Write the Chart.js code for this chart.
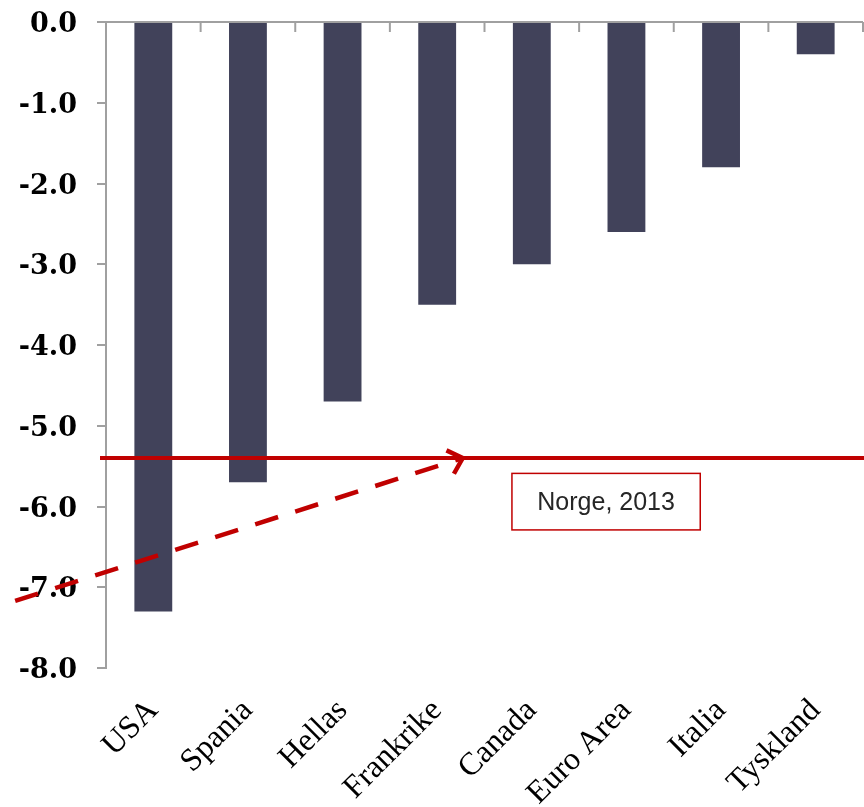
<!DOCTYPE html>
<html><head><meta charset="utf-8">
<script src="https://cdn.jsdelivr.net/npm/chart.js@4/dist/chart.umd.min.js"></script>
<style>html,body{margin:0;padding:0;background:#fff}#wrap{width:864px;height:807px}</style>
</head><body><div id="wrap"><canvas id="c"></canvas></div>
<script>
// ---- data ----
const categories = ['USA', 'Spania', 'Hellas', 'Frankrike', 'Canada', 'Euro Area', 'Italia', 'Tyskland'];
const values = [-7.3, -5.7, -4.7, -3.5, -3.0, -2.6, -1.8, -0.4];
const yMin = -8;
const yMax = 0;
const yStep = 1;
// reference level (Norge, 2013)
const norgeLevel = -5.4;
const norgeLabel = 'Norge, 2013';

// ---- annotation placement (data coordinates: category index, value) ----
const arrowFrom = { x: -1.46, y: -7.17 };
const arrowTo = { x: 3.27, y: -5.4 };
const labelBox = { x1: 3.79, x2: 5.78, y1: -5.59, y2: -6.29 };

const AXIS_COLOR = '#a0a0a0';
const RED = '#c00000';

const overlay = {
  id: 'overlay',
  afterDatasetsDraw(chart) {
    const ctx = chart.ctx, x = chart.scales.x, y = chart.scales.y, ca = chart.chartArea;
    ctx.save();
    // top axis line at value 0 with category tick marks
    const y0 = y.getPixelForValue(0);
    ctx.strokeStyle = AXIS_COLOR; ctx.lineWidth = 2;
    ctx.beginPath(); ctx.moveTo(ca.left, y0); ctx.lineTo(ca.right, y0); ctx.stroke();
    const half = (x.getPixelForValue(1) - x.getPixelForValue(0)) / 2;
    for (let i = 0; i < categories.length; i++) {
      const bx = x.getPixelForValue(i) + half;
      ctx.beginPath(); ctx.moveTo(bx, y0); ctx.lineTo(bx, y0 + 10); ctx.stroke();
    }
    // red horizontal level line
    const yl = y.getPixelForValue(norgeLevel);
    ctx.strokeStyle = RED; ctx.lineWidth = 4;
    ctx.beginPath(); ctx.moveTo(ca.left - 6, yl); ctx.lineTo(chart.width, yl); ctx.stroke();
    // dashed arrow
    const ax1 = x.getPixelForValue(arrowFrom.x), ay1 = y.getPixelForValue(arrowFrom.y);
    const ax2 = x.getPixelForValue(arrowTo.x), ay2 = y.getPixelForValue(arrowTo.y);
    ctx.lineWidth = 4.5;
    ctx.setLineDash([24, 18]);
    ctx.beginPath(); ctx.moveTo(ax1, ay1); ctx.lineTo(ax2, ay2); ctx.stroke();
    ctx.setLineDash([]);
    const ang = Math.atan2(ay2 - ay1, ax2 - ax1);
    const L = 18, spread = 0.75;
    ctx.beginPath();
    ctx.moveTo(ax2 - L * Math.cos(ang - spread), ay2 - L * Math.sin(ang - spread));
    ctx.lineTo(ax2, ay2);
    ctx.lineTo(ax2 - L * Math.cos(ang + spread), ay2 - L * Math.sin(ang + spread));
    ctx.stroke();
    // label box
    const bx1 = x.getPixelForValue(labelBox.x1), bx2 = x.getPixelForValue(labelBox.x2);
    const by1 = y.getPixelForValue(labelBox.y1), by2 = y.getPixelForValue(labelBox.y2);
    ctx.fillStyle = '#fff';
    ctx.fillRect(bx1, by1, bx2 - bx1, by2 - by1);
    ctx.lineWidth = 1.5; ctx.strokeStyle = RED;
    ctx.strokeRect(bx1, by1, bx2 - bx1, by2 - by1);
    ctx.fillStyle = '#262626';
    ctx.font = '25px "Liberation Sans", Arial, sans-serif';
    ctx.textAlign = 'center'; ctx.textBaseline = 'middle';
    ctx.fillText(norgeLabel, (bx1 + bx2) / 2, (by1 + by2) / 2 + 1);
    ctx.restore();
  }
};

new Chart(document.getElementById('c'), {
  type: 'bar',
  data: {
    labels: categories,
    datasets: [{ data: values, backgroundColor: '#41425a', barPercentage: 0.4, categoryPercentage: 1.0 }]
  },
  options: {
    responsive: true, maintainAspectRatio: false, animation: false,
    layout: { padding: { top: 22, right: 1, left: 0, bottom: 0 } },
    plugins: { legend: { display: false }, tooltip: { enabled: false } },
    scales: {
      x: {
        position: 'bottom',
        grid: { display: false, drawTicks: false },
        border: { display: false },
        ticks: { autoSkip: false, maxRotation: 45, minRotation: 45, padding: 24, color: '#000',
                 font: { family: '"Liberation Serif", "Times New Roman", serif', size: 32 } },
        afterFit(s) { s.height = 139; s.paddingLeft = 0; s.paddingRight = 0; }
      },
      y: {
        min: yMin, max: yMax,
        ticks: { stepSize: yStep, callback: v => Number(v).toFixed(1), color: '#000', padding: 20, labelOffset: 3,
                 font: { family: '"DejaVu Serif", serif', size: 27, weight: 'bold' } },
        grid: { drawOnChartArea: false, color: AXIS_COLOR, lineWidth: 2, tickLength: 9 },
        border: { color: AXIS_COLOR, width: 2 },
        afterFit(s) { s.width = 106; s.paddingTop = 0; s.paddingBottom = 0; }
      }
    }
  },
  plugins: [overlay]
});
</script>
</body></html>
